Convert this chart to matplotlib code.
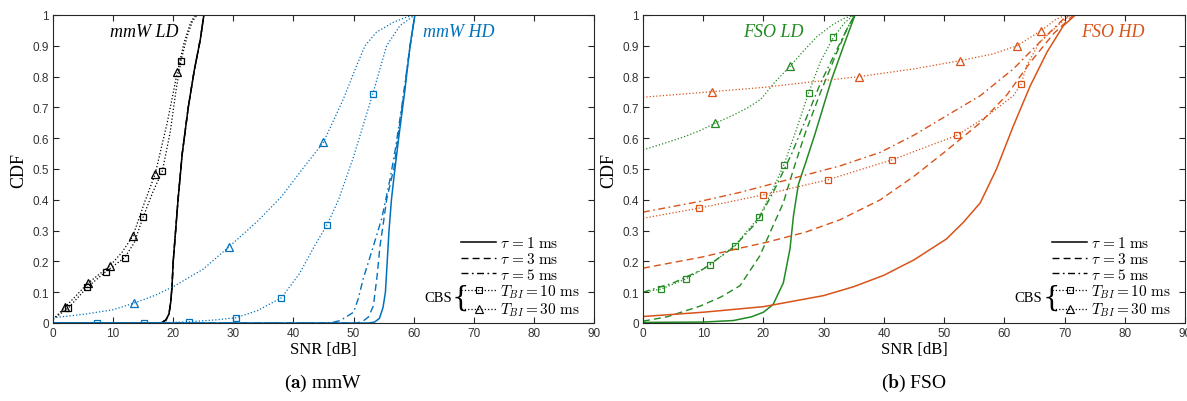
import matplotlib
matplotlib.use("Agg")
import matplotlib.pyplot as plt
from matplotlib.lines import Line2D

plt.rcParams['mathtext.fontset'] = 'cm'
plt.rcParams['font.family'] = ['Liberation Serif', 'DejaVu Serif']

BLUE = '#0072BD'
ORANGE = '#D95319'
GREEN = '#218A21'

# ---------------- (a) mmW ----------------
# LD (black): the three tau curves lie on top of each other
ld_tau_snr = [0, 18, 18.8, 19.3, 19.6, 19.8, 20.0, 20.4, 20.8, 21.5, 22.5, 23.5, 24.5, 25.1]
ld_tau_cdf = [0, 0, 0.01, 0.03, 0.07, 0.12, 0.2, 0.3, 0.4, 0.55, 0.7, 0.82, 0.92, 1.0]
ld_t10_snr = [0, 2.55, 5.7, 8.8, 11.9, 13.5, 15.0, 16.5, 18.2, 19.5, 20.5, 21.3, 22.3, 23.2, 24.0]
ld_t10_cdf = [0.012, 0.049, 0.116, 0.167, 0.212, 0.26, 0.344, 0.42, 0.494, 0.62, 0.76, 0.852, 0.93, 0.98, 1.0]
ld_t10_marks = [1, 2, 3, 4, 6, 8, 11]
ld_t30_snr = [0, 2.0, 5.8, 9.5, 11.5, 13.3, 15.2, 17.0, 19.0, 20.7, 21.8, 22.8, 23.6]
ld_t30_cdf = [0.012, 0.051, 0.129, 0.186, 0.23, 0.283, 0.39, 0.484, 0.65, 0.816, 0.91, 0.97, 1.0]
ld_t30_marks = [1, 2, 3, 5, 7, 9]

# HD (blue)
hd_tau1_snr = [0, 52.5, 53.5, 54.3, 54.9, 55.3, 55.6, 55.9, 56.3, 56.7, 57.5, 58.5, 59.4, 60.2]
hd_tau1_cdf = [0, 0, 0.003, 0.015, 0.05, 0.1, 0.2, 0.3, 0.4, 0.47, 0.6, 0.75, 0.9, 1.0]
hd_tau3_snr = [0, 50.5, 51.5, 52.5, 53.3, 53.9, 54.4, 55.0, 55.5, 56.2, 56.7, 57.5, 58.5, 59.4, 60.2]
hd_tau3_cdf = [0, 0, 0.005, 0.02, 0.056, 0.15, 0.25, 0.33, 0.40, 0.46, 0.5, 0.62, 0.76, 0.9, 1.0]
hd_tau5_snr = [0, 45, 46.5, 47.8, 50, 50.8, 51.6, 53.3, 54.7, 56.1, 57.0, 58.0, 59.2, 60.2]
hd_tau5_cdf = [0, 0, 0.002, 0.008, 0.035, 0.08, 0.143, 0.25, 0.34, 0.47, 0.57, 0.70, 0.87, 1.0]
hd_t10_snr = [0, 7.4, 15.1, 20, 22.7, 27, 30.4, 34, 38.0, 41, 43.5, 45.6, 47.5, 50, 53.2, 55.5, 57.7, 60.2]
hd_t10_cdf = [0, 0, 0.001, 0.002, 0.004, 0.01, 0.017, 0.04, 0.082, 0.16, 0.25, 0.319, 0.40, 0.54, 0.744, 0.9, 0.965, 1.0]
hd_t10_marks = [1, 2, 4, 6, 8, 11, 14]
hd_t30_snr = [0, 5, 10, 13.4, 17, 20, 25, 29.2, 34, 38, 41.5, 45, 48.3, 50.5, 51.9, 53.8, 56.6, 58.8, 60.2]
hd_t30_cdf = [0.017, 0.028, 0.043, 0.064, 0.09, 0.118, 0.175, 0.246, 0.33, 0.41, 0.5, 0.587, 0.727, 0.835, 0.9, 0.944, 0.976, 0.993, 1.0]
hd_t30_marks = [3, 7, 11]

# ---------------- (b) FSO ----------------
# LD (green)
fl_tau1_snr = [0, 10, 15, 18, 20, 21.6, 23.3, 24.4, 25.0, 25.8, 27.0, 28.5, 31.3, 33.5, 35.2]
fl_tau1_cdf = [0.002, 0.003, 0.008, 0.02, 0.035, 0.06, 0.13, 0.24, 0.35, 0.45, 0.52, 0.61, 0.79, 0.91, 1.0]
fl_tau3_snr = [0, 4, 9.5, 13, 16.1, 19.4, 21.6, 23.3, 25.0, 27, 29.5, 32, 34, 35.2]
fl_tau3_cdf = [0.006, 0.02, 0.055, 0.085, 0.121, 0.218, 0.316, 0.39, 0.5, 0.62, 0.75, 0.87, 0.96, 1.0]
fl_tau5_snr = [0, 5, 10, 15, 19, 21.5, 23, 24.7, 27, 29.5, 32, 34, 35.2]
fl_tau5_cdf = [0.1, 0.13, 0.175, 0.245, 0.33, 0.42, 0.48, 0.55, 0.66, 0.78, 0.88, 0.96, 1.0]
fl_t10_snr = [0, 3.0, 7.1, 11.1, 15.2, 19.3, 21.6, 23.4, 25.5, 27.5, 29.5, 31.6, 33.5, 35.0]
fl_t10_cdf = [0.1, 0.11, 0.143, 0.188, 0.251, 0.344, 0.435, 0.514, 0.63, 0.747, 0.85, 0.927, 0.975, 1.0]
fl_t10_marks = [1, 2, 3, 4, 5, 7, 9, 11]
fl_t30_snr = [0, 3, 6.6, 9.5, 12.0, 15, 17.5, 19.6, 21.8, 24.4, 26.5, 28.9, 31.6, 33.5, 35.2]
fl_t30_cdf = [0.562, 0.58, 0.603, 0.625, 0.649, 0.675, 0.70, 0.727, 0.78, 0.833, 0.88, 0.93, 0.97, 0.99, 1.0]
fl_t30_marks = [4, 9]

# HD (orange)
fh_tau1_snr = [0, 10, 20, 30, 35, 40, 45, 50.4, 53.2, 56, 58.7, 61.5, 64.3, 67.1, 69.8, 71.8]
fh_tau1_cdf = [0.021, 0.035, 0.053, 0.089, 0.118, 0.155, 0.205, 0.273, 0.327, 0.39, 0.5, 0.64, 0.77, 0.88, 0.965, 1.0]
fh_tau3_snr = [0, 10, 16.1, 20.5, 27, 32.7, 39.4, 44.9, 50.4, 56, 60.4, 64.3, 68.2, 71.5]
fh_tau3_cdf = [0.178, 0.215, 0.243, 0.262, 0.295, 0.335, 0.40, 0.475, 0.56, 0.65, 0.74, 0.846, 0.94, 1.0]
fh_tau5_snr = [0, 9.5, 16.1, 24, 32.7, 39.4, 45, 50.4, 56, 61.5, 65.8, 69.8, 71]
fh_tau5_cdf = [0.36, 0.395, 0.424, 0.465, 0.51, 0.554, 0.61, 0.673, 0.738, 0.825, 0.91, 0.987, 1.0]
fh_t10_snr = [0, 9.3, 20.0, 30.7, 41.4, 52.1, 57, 61.5, 62.8, 63.7, 65.8, 69.1, 71]
fh_t10_cdf = [0.34, 0.373, 0.416, 0.465, 0.53, 0.609, 0.67, 0.738, 0.776, 0.835, 0.91, 0.97, 1.0]
fh_t10_marks = [1, 2, 3, 4, 5, 8]
fh_t30_snr = [0, 11.4, 20, 35.9, 45, 52.7, 58, 62.1, 66.1, 68.5, 70.2]
fh_t30_cdf = [0.733, 0.751, 0.765, 0.80, 0.825, 0.852, 0.873, 0.90, 0.949, 0.985, 1.0]
fh_t30_marks = [1, 3, 5, 7, 8]

legend_labels = [r'$\tau\,=1\ \mathrm{ms}$', r'$\tau\,=3\ \mathrm{ms}$', r'$\tau\,=5\ \mathrm{ms}$',
                 r'$T_{BI}=10\ \mathrm{ms}$', r'$T_{BI}=30\ \mathrm{ms}$']

DASH = (5, 3)
DASHDOT = (5, 2.5, 1.2, 2.5)


def tau_lines(ax, col, snr1, cdf1, snr3, cdf3, snr5, cdf5):
    ax.plot(snr1, cdf1, '-', color=col, lw=1.1)
    ax.plot(snr3, cdf3, '--', color=col, lw=1.0, dashes=DASH)
    ax.plot(snr5, cdf5, '-.', color=col, lw=1.0, dashes=DASHDOT)


def cbs_lines(ax, col, s10, c10, m10, s30, c30, m30):
    ax.plot(s10, c10, ':', color=col, lw=0.9, marker='s', markevery=m10,
            ms=4.2, mfc='none', mew=0.9)
    ax.plot(s30, c30, ':', color=col, lw=0.9, marker='^', markevery=m30,
            ms=6, mfc='none', mew=0.9)


fig = plt.figure(figsize=(11.87, 4.02), dpi=100)
axA = fig.add_axes([53 / 1187, 78 / 402, 541 / 1187, 308 / 402])
axB = fig.add_axes([643 / 1187, 78 / 402, 542 / 1187, 308 / 402])

tau_lines(axA, 'k', ld_tau_snr, ld_tau_cdf, ld_tau_snr, ld_tau_cdf, ld_tau_snr, ld_tau_cdf)
cbs_lines(axA, 'k', ld_t10_snr, ld_t10_cdf, ld_t10_marks, ld_t30_snr, ld_t30_cdf, ld_t30_marks)
tau_lines(axA, BLUE, hd_tau1_snr, hd_tau1_cdf, hd_tau3_snr, hd_tau3_cdf, hd_tau5_snr, hd_tau5_cdf)
cbs_lines(axA, BLUE, hd_t10_snr, hd_t10_cdf, hd_t10_marks, hd_t30_snr, hd_t30_cdf, hd_t30_marks)

tau_lines(axB, GREEN, fl_tau1_snr, fl_tau1_cdf, fl_tau3_snr, fl_tau3_cdf, fl_tau5_snr, fl_tau5_cdf)
cbs_lines(axB, GREEN, fl_t10_snr, fl_t10_cdf, fl_t10_marks, fl_t30_snr, fl_t30_cdf, fl_t30_marks)
tau_lines(axB, ORANGE, fh_tau1_snr, fh_tau1_cdf, fh_tau3_snr, fh_tau3_cdf, fh_tau5_snr, fh_tau5_cdf)
cbs_lines(axB, ORANGE, fh_t10_snr, fh_t10_cdf, fh_t10_marks, fh_t30_snr, fh_t30_cdf, fh_t30_marks)

axA.text(9.5, 0.945, 'mmW LD', style='italic', fontsize=13, color='k', va='center')
axA.text(61.6, 0.945, 'mmW HD', style='italic', fontsize=13, color=BLUE, va='center')
axB.text(16.6, 0.945, 'FSO LD', style='italic', fontsize=13, color=GREEN, va='center')
axB.text(72.8, 0.945, 'FSO HD', style='italic', fontsize=13, color=ORANGE, va='center')

handles = [Line2D([], [], color='k', ls='-', lw=1.1),
           Line2D([], [], color='k', ls='--', lw=1.0, dashes=DASH),
           Line2D([], [], color='k', ls='-.', lw=1.0, dashes=DASHDOT),
           Line2D([], [], color='k', ls=':', lw=0.9, marker='s', ms=4.2, mfc='none', mew=0.8),
           Line2D([], [], color='k', ls=':', lw=0.9, marker='^', ms=6, mfc='none', mew=0.8)]

for ax, cap in [(axA, r'($\mathbf{a}$) mmW'), (axB, r'($\mathbf{b}$) FSO')]:
    ax.set_xlim(0, 90)
    ax.set_ylim(0, 1)
    ax.set_xticks(range(0, 91, 10))
    ax.set_yticks([i / 10 for i in range(11)])
    ax.set_yticklabels(['%g' % (i / 10) for i in range(11)])
    ax.tick_params(direction='in', top=True, right=True, length=4, width=0.8,
                   color='#262626', labelcolor='#333333', labelsize=8.5, pad=3)
    for lab in ax.get_xticklabels() + ax.get_yticklabels():
        lab.set_family(['Liberation Sans', 'DejaVu Sans'])
    for sp in ax.spines.values():
        sp.set_color('#262626')
        sp.set_linewidth(0.8)
    ax.set_xlabel('SNR [dB]', fontsize=12, labelpad=1)
    ax.set_ylabel('CDF', fontsize=13, labelpad=4)
    ax.legend(handles, legend_labels, loc='lower right', bbox_to_anchor=(0.99, -0.015),
              frameon=False, fontsize=11, handlelength=2.3, handletextpad=0.2,
              labelspacing=0.05, numpoints=1, borderaxespad=0.2)
    ax.text(0.737, 0.083, 'CBS', transform=ax.transAxes, fontsize=10.5,
            ha='right', va='center')
    ax.text(0.737, 0.083, '{', transform=ax.transAxes, fontsize=20,
            ha='left', va='center', family='DejaVu Serif', fontweight='light')
    bb = ax.get_position()
    fig.text(bb.x0 + bb.width / 2, 0.045, cap, ha='center', va='center', fontsize=14)

fig.savefig('out.png', dpi=100)
